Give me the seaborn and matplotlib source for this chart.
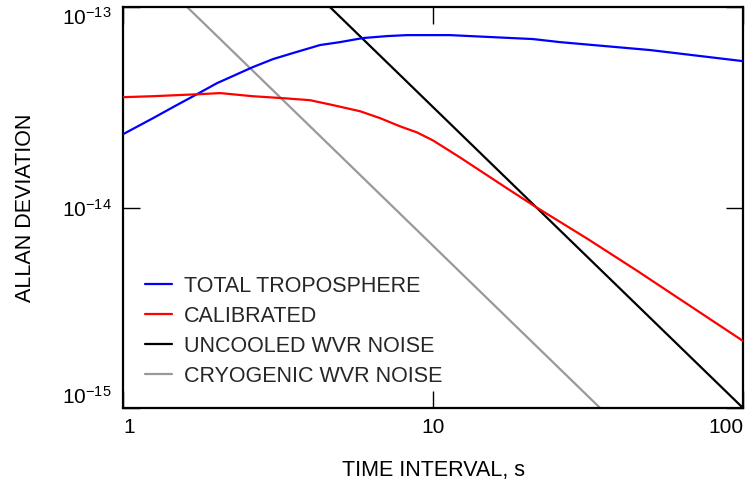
import numpy as np
import pandas as pd
import matplotlib
matplotlib.use("Agg")
import matplotlib.pyplot as plt
import seaborn as sns
from matplotlib.ticker import FixedLocator, NullLocator

# ---- data ----
total_x = [1.0, 1.25, 1.49, 1.73, 2.01, 2.62, 3.05, 3.53, 4.32, 5.01, 5.94, 7.11, 8.24,
           11.35, 21.0, 25.7, 50.1, 100.0]
total_y = [2.32e-14, 2.79e-14, 3.24e-14, 3.67e-14, 4.17e-14, 5.01e-14, 5.50e-14, 5.89e-14,
           6.46e-14, 6.68e-14, 7.00e-14, 7.16e-14, 7.24e-14, 7.24e-14, 6.92e-14, 6.68e-14,
           6.10e-14, 5.37e-14]

cal_x = [1.0, 1.25, 1.73, 2.06, 2.62, 3.28, 4.01, 4.76, 5.82, 6.75, 7.83, 8.87, 10.0,
         11.35, 12.2, 14.93, 17.7, 21.6, 31.4, 45.5, 65.9, 100.0]
cal_y = [3.55e-14, 3.59e-14, 3.67e-14, 3.72e-14, 3.59e-14, 3.51e-14, 3.43e-14, 3.24e-14,
         3.02e-14, 2.79e-14, 2.54e-14, 2.37e-14, 2.16e-14, 1.91e-14, 1.78e-14, 1.45e-14,
         1.22e-14, 1.0e-14, 7.0e-15, 4.84e-15, 3.31e-15, 2.16e-15]

uncooled_x = [4.65, 100.0]
uncooled_y = [1e-13, 1e-15]

cryo_x = [1.61, 34.6]
cryo_y = [1e-13, 1e-15]

series_names = ["TOTAL TROPOSPHERE", "CALIBRATED", "UNCOOLED WVR NOISE", "CRYOGENIC WVR NOISE"]
series_colors = ["#0000ff", "#ff0000", "#000000", "#999999"]

x_ticks = [1, 10, 100]
x_tick_labels = ["1", "10", "100"]
y_ticks = [1e-15, 1e-14, 1e-13]
y_tick_labels = [r"$10^{-15}$", r"$10^{-14}$", r"$10^{-13}$"]

# ---- style ----
sns.set_theme(style="white")
plt.rcParams["font.family"] = ["Liberation Sans", "DejaVu Sans"]
plt.rcParams["mathtext.fontset"] = "custom"
plt.rcParams["mathtext.rm"] = "Liberation Sans"
plt.rcParams["mathtext.it"] = "Liberation Sans:italic"
plt.rcParams["mathtext.bf"] = "Liberation Sans:bold"

fig = plt.figure(figsize=(7.47, 4.84), dpi=100)
ax = fig.add_axes([123 / 747, (484 - 408) / 484, 620 / 747, 401 / 484])

data = [(total_x, total_y), (cal_x, cal_y), (uncooled_x, uncooled_y), (cryo_x, cryo_y)]
zorders = [3, 4, 2.5, 2]
for (xs, ys), name, col, z in zip(data, series_names, series_colors, zorders):
    df = pd.DataFrame({"x": xs, "y": ys})
    sns.lineplot(data=df, x="x", y="y", ax=ax, color=col, label=name,
                 linewidth=1.6, sort=False, estimator=None, zorder=z)

ax.set_xscale("log")
ax.set_yscale("log")
ax.set_xlim(1, 100)
ax.set_ylim(1e-15, 1e-13)

ax.xaxis.set_major_locator(FixedLocator(x_ticks))
ax.xaxis.set_minor_locator(NullLocator())
ax.yaxis.set_major_locator(FixedLocator(y_ticks))
ax.yaxis.set_minor_locator(NullLocator())
ax.set_xticklabels(x_tick_labels)
ax.set_yticklabels(y_tick_labels)

ax.tick_params(axis="both", which="major", direction="in", length=12, width=1.0,
               color="black", labelsize=15, labelcolor="black",
               top=True, right=True, bottom=True, left=True)
ax.tick_params(axis="x", pad=7)
ax.tick_params(axis="y", pad=8)

xl = ax.get_xticklabels()
xl[0].set_ha("left")
xl[-1].set_ha("right")
yl = ax.get_yticklabels()
yl[0].set_va("bottom")
yl[-1].set_va("top")

for s in ax.spines.values():
    s.set_visible(True)
    s.set_color("black")
    s.set_linewidth(1.6)

ax.set_xlabel("TIME INTERVAL, s", fontsize=15.5, color="black", labelpad=17)
ax.set_ylabel("ALLAN DEVIATION", fontsize=15.5, color="black", labelpad=19)

leg = ax.legend(loc="lower left", bbox_to_anchor=(0.005, 0.0045), frameon=False,
                fontsize=15.5, handlelength=1.25, handletextpad=0.55,
                labelspacing=0.42)
for line in leg.get_lines():
    line.set_linewidth(1.6)

fig.savefig("out.png", dpi=100)
